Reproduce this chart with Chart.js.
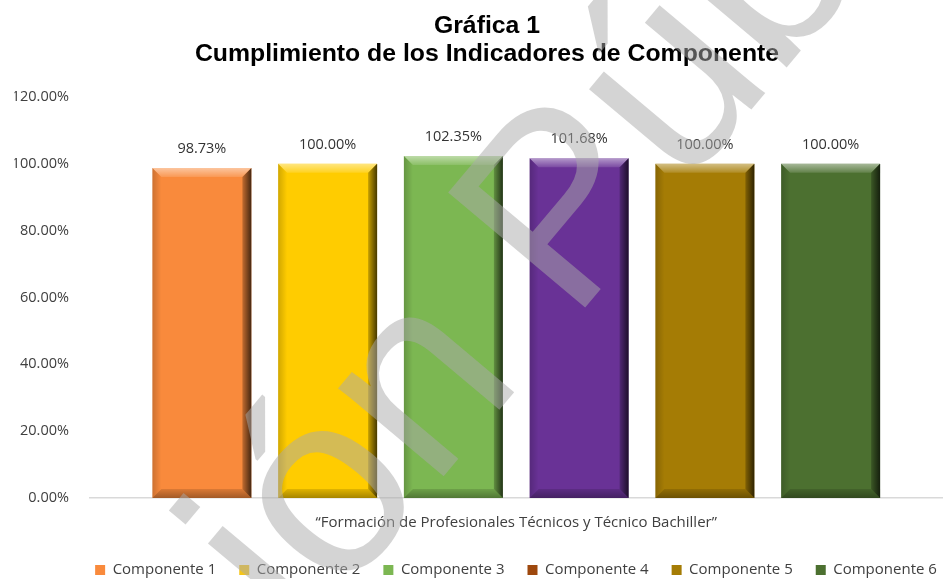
<!DOCTYPE html>
<html lang="es">
<head>
<meta charset="utf-8">
<title>Gráfica 1</title>
<script src="https://cdn.jsdelivr.net/npm/chart.js@4.4.1/dist/chart.umd.min.js"></script>
<style>
  html, body { margin: 0; padding: 0; background: #fff; }
  #wrap { width: 943px; height: 579px; position: relative; }
</style>
</head>
<body>
<div id="wrap"><canvas id="chart-cumplimiento"></canvas></div>
<script>
// Gráfica 1 — Cumplimiento de los Indicadores de Componente
// One category, six components drawn as separate datasets with an Excel-style bevel.

const CATEGORIES   = ['“Formación de Profesionales Técnicos y Técnico Bachiller”'];
const COMPONENTS   = ['Componente 1', 'Componente 2', 'Componente 3', 'Componente 4', 'Componente 5', 'Componente 6'];
const CUMPLIMIENTO = [98.73, 100.00, 102.35, 101.68, 100.00, 100.00];
const Y_TICKS      = [0, 20, 40, 60, 80, 100, 120];
const TITLE_LINES  = ['Gráfica 1', 'Cumplimiento de los Indicadores de Componente'];
const WATERMARK    = 'Versión Pública';

// ── Styles ────────────────────────────────────────────────────────────────────
const BAR_COLORS    = ['#F98A3C', '#FFCC00', '#7CB752', '#693296', '#A57C05', '#4C7030'];
const LEGEND_COLORS = ['#F98A3C', '#F5C518', '#7CB752', '#9E480E', '#A57C05', '#4C7030'];
const INK       = '#404040';
const FONT      = "'Open Sans', sans-serif";
const LEGEND_PX = 15;
const TITLE_CX  = 487;   // title centre in the original sits right of the canvas centre
const LEGEND_CX = 516;   // legend row centre
const LEGEND_Y  = 570;   // legend text centre line

// ── Plugins ───────────────────────────────────────────────────────────────────

// Move title / legend boxes sideways (and legend down) after layout
const boxShift = {
  id: 'boxShift',
  afterLayout(chart) {
    const lg = chart.legend;
    if (lg) {
      const labels = lg.options.labels;
      const itemH  = Math.max(LEGEND_PX, labels.boxHeight);
      const dx = LEGEND_CX - (lg.left + lg.right) / 2;
      const dy = LEGEND_Y - (lg.top + labels.padding + itemH / 2);
      lg.left += dx; lg.right += dx;
      lg.top  += dy; lg.bottom += dy;
    }
    const tb = chart.titleBlock;
    if (tb) {
      const dx = TITLE_CX - (tb.left + tb.right) / 2;
      tb.left += dx; tb.right += dx;
    }
  }
};

// Bevel shading on each bar, drawn over the flat fill
const bevel = {
  id: 'bevel',
  afterDatasetsDraw(chart) {
    const ctx = chart.ctx;
    chart.data.datasets.forEach((ds, i) => {
      const meta = chart.getDatasetMeta(i);
      if (meta.hidden) return;
      meta.data.forEach(bar => {
        const { x, y, width, base } = bar.getProps(['x', 'y', 'width', 'base'], true);
        const L = x - width / 2, R = x + width / 2, T = y, B = base, b = 9;

        const quad = (pts, fill) => {
          ctx.beginPath();
          ctx.moveTo(pts[0][0], pts[0][1]);
          pts.slice(1).forEach(p => ctx.lineTo(p[0], p[1]));
          ctx.closePath();
          ctx.fillStyle = fill;
          ctx.fill();
        };

        ctx.save();
        // top highlight
        let g = ctx.createLinearGradient(0, T, 0, T + b);
        g.addColorStop(0, 'rgba(255,255,255,0.5)');
        g.addColorStop(1, 'rgba(255,255,255,0.12)');
        quad([[L, T], [R, T], [R - b, T + b], [L + b, T + b]], g);
        // bottom shade
        g = ctx.createLinearGradient(0, B - b, 0, B);
        g.addColorStop(0, 'rgba(0,0,0,0.12)');
        g.addColorStop(1, 'rgba(0,0,0,0.35)');
        quad([[L, B], [R, B], [R - b, B - b], [L + b, B - b]], g);
        // right shade
        g = ctx.createLinearGradient(R - b - 3, 0, R, 0);
        g.addColorStop(0, 'rgba(0,0,0,0.05)');
        g.addColorStop(1, 'rgba(0,0,0,0.72)');
        quad([[R, T], [R, B], [R - b, B - b], [R - b, T + b]], g);
        // left edge
        g = ctx.createLinearGradient(L, 0, L + b, 0);
        g.addColorStop(0, 'rgba(0,0,0,0.18)');
        g.addColorStop(1, 'rgba(0,0,0,0.0)');
        quad([[L, T], [L + b, T + b], [L + b, B - b], [L, B]], g);
        ctx.restore();
      });
    });
  }
};

// Value labels above the bars
const valueLabels = {
  id: 'valueLabels',
  afterDatasetsDraw(chart) {
    const ctx = chart.ctx;
    ctx.save();
    ctx.font = `14.5px ${FONT}`;
    ctx.fillStyle = '#333';
    ctx.textAlign = 'center';
    ctx.textBaseline = 'middle';
    chart.data.datasets.forEach((ds, i) => {
      chart.getDatasetMeta(i).data.forEach((bar, j) => {
        ctx.fillText(`${ds.data[j].toFixed(2)}%`, bar.x, bar.y - 19);
      });
    });
    ctx.restore();
  }
};

// Diagonal grey watermark over everything
const watermark = {
  id: 'watermark',
  afterDraw(chart) {
    const ctx = chart.ctx;
    ctx.save();
    ctx.font = "260px 'Liberation Sans', Arial, sans-serif";
    ctx.fillStyle = 'rgba(170,170,170,0.5)';
    ctx.textBaseline = 'alphabetic';
    ctx.translate(302, 645);
    ctx.rotate(-50 * Math.PI / 180);
    const lead = ctx.measureText('Vers').width;
    ctx.fillText(WATERMARK, -lead, 0);
    ctx.restore();
  }
};

// ── Chart ─────────────────────────────────────────────────────────────────────

const datasets = COMPONENTS.map((name, i) => ({
  label:           name,
  data:            [CUMPLIMIENTO[i]],
  backgroundColor: BAR_COLORS[i],
  borderWidth:     0
}));

new Chart(document.getElementById('chart-cumplimiento'), {
  type: 'bar',
  data: { labels: CATEGORIES, datasets },
  plugins: [boxShift, bevel, valueLabels, watermark],
  options: {
    responsive: true,
    maintainAspectRatio: false,
    animation: false,
    categoryPercentage: 0.884,
    barPercentage: 0.787,
    layout: { padding: { left: 14.5, right: 0, top: 0, bottom: 0 } },
    plugins: {
      title: {
        display: true,
        text: TITLE_LINES,
        color: '#000',
        font: { family: "'Liberation Sans', Arial, sans-serif", size: 24.8, weight: 'bold', lineHeight: 28 / 24.8 },
        padding: { top: 12, bottom: 29 }
      },
      legend: {
        position: 'bottom',
        labels: {
          color: INK,
          font: { family: FONT, size: LEGEND_PX },
          boxWidth: 10,
          boxHeight: 10,
          padding: 23,
          generateLabels: chart => chart.data.datasets.map((ds, i) => ({
            text:         ds.label,
            fillStyle:    LEGEND_COLORS[i],
            strokeStyle:  LEGEND_COLORS[i],
            lineWidth:    0,
            hidden:       !chart.isDatasetVisible(i),
            datasetIndex: i,
            fontColor:    INK
          }))
        }
      },
      tooltip: { enabled: false }
    },
    scales: {
      x: {
        grid: { display: false, drawTicks: false },
        border: { display: true, color: '#D9D9D9', width: 1.5 },
        ticks: { color: INK, font: { family: FONT, size: 15 }, padding: 16 },
        afterFit: scale => { scale.height = 33; }
      },
      y: {
        min: 0,
        max: 120,
        afterBuildTicks: scale => { scale.ticks = Y_TICKS.map(v => ({ value: v })); },
        afterFit: scale => { scale.width = 75; },
        grid: { display: false, drawTicks: false },
        border: { display: false },
        ticks: {
          color: INK,
          font: { family: FONT, size: 14.5 },
          padding: 20.5,
          callback: v => `${v.toFixed(2)}%`
        }
      }
    }
  }
});
</script>
</body>
</html>
